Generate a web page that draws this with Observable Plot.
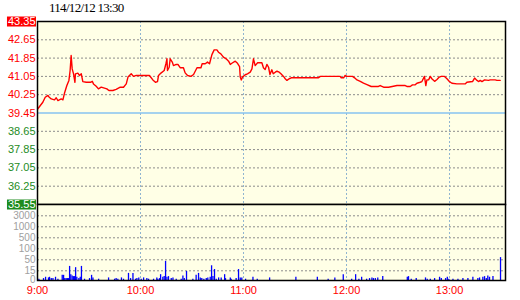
<!DOCTYPE html>
<html><head><meta charset="utf-8">
<script src="https://cdn.jsdelivr.net/npm/d3@7"></script>
<script src="https://cdn.jsdelivr.net/npm/@observablehq/plot@0.6"></script>
<style>
body{margin:0;background:#fff;}
#wrap{position:relative;width:520px;height:300px;overflow:hidden;font-family:"Liberation Sans",Arial,sans-serif;}
#title{position:absolute;left:49px;top:0px;font:13px "Liberation Serif",serif;letter-spacing:-0.7px;line-height:16px;color:#000;}
#price{position:absolute;left:0;top:0;}
#vol{position:absolute;left:0;top:204px;}
svg{overflow:visible;}
</style></head><body>
<div id="wrap"><div id="title"></div><div id="price"></div><div id="vol"></div></div>
<script>
const titleText = "114/12/12 13:30";
const priceLabels = ["35.55","36.25","37.05","37.85","38.65","39.45","40.25","41.05","41.85","42.65","43.35"];
const refLabel = "39.45";
const timeLabels = ["9:00","10:00","11:00","12:00","13:00"];
const volLabels = ["0","15","50","100","500","1000","3000"];

// minutes after 9:00
const priceMinutes = [0.2,3.1,4.5,6.1,6.4,8.0,9.9,10.9,11.9,13.8,14.8,15.7,17.1,18.3,19.0,19.6,20.2,21.0,21.8,22.1,23.5,24.5,25.5,26.4,28.4,30.9,31.9,32.6,34.2,35.5,37.1,39.0,40.4,41.6,43.9,45.8,48.2,50.1,51.7,52.7,54.6,55.9,57.5,65.2,67.2,68.7,69.9,70.5,71.9,73.8,74.8,75.4,75.7,76.7,77.3,78.5,79.2,80.8,81.8,83.1,85.0,86.0,87.4,89.4,90.9,92.9,95.2,95.9,97.7,99.0,100.2,101.6,102.9,104.5,105.4,106.8,108.3,109.9,111.3,112.3,113.2,115.2,116.5,117.7,118.1,118.7,119.4,121.0,122.3,123.9,124.9,125.8,126.8,128.2,130.7,131.6,132.6,133.6,134.6,135.4,136.5,137.3,138.5,139.5,140.8,141.8,143.3,144.3,145.3,146.6,147.8,163.7,164.7,176.3,176.9,178.3,179.2,180.2,183.5,184.7,186.1,188.0,189.9,191.9,194.4,198.6,199.6,201.6,204.5,209.4,214.2,215.2,217.1,218.4,220.0,221.0,222.9,223.9,225.4,226.2,226.8,227.8,228.8,229.7,231.3,232.7,234.0,235.2,237.1,238.5,239.8,241.4,244.3,249.1,250.1,253.4,254.6,256.0,256.9,257.9,258.9,260.4,262.7,263.7,266.6,267.6,269.5];
const prices = [39.63,39.91,40.12,40.20,40.15,40.05,40.01,40.10,39.98,40.05,40.01,40.29,40.62,40.84,41.26,41.90,41.33,41.12,40.76,41.12,41.15,41.05,41.12,40.79,40.76,40.76,40.80,40.69,40.59,40.48,40.55,40.51,40.48,40.41,40.41,40.46,40.55,40.55,40.69,40.98,41.12,41.01,41.05,41.05,40.86,40.76,40.79,41.05,41.15,41.26,41.55,41.76,41.26,41.40,41.76,41.62,41.47,41.52,41.52,41.38,41.38,41.16,41.05,41.01,41.09,41.38,41.38,41.55,41.55,41.62,41.55,41.94,42.14,42.14,42.04,41.97,41.83,41.76,41.66,41.52,41.57,41.66,41.57,41.43,40.98,40.86,40.98,41.08,41.12,41.19,41.33,41.76,41.47,41.59,41.59,41.38,41.30,41.52,41.40,41.09,41.29,41.12,41.19,41.23,41.19,41.12,41.01,40.91,40.84,40.91,40.95,40.95,41.01,41.01,40.95,40.95,41.05,41.01,41.01,40.95,40.86,40.80,40.72,40.66,40.58,40.58,40.62,40.55,40.55,40.62,40.62,40.58,40.58,40.65,40.65,40.72,40.76,40.79,41.01,40.62,40.86,40.86,41.01,40.91,40.80,40.88,40.98,41.01,41.01,40.91,40.80,40.72,40.69,40.69,40.76,40.79,40.94,40.84,40.79,40.84,40.79,40.86,40.84,40.86,40.86,40.84,40.84];

const volMinutes = [0.8,3.5,4.7,6.4,7.0,8.0,9.0,10.5,11.9,14.4,15.2,15.9,16.7,17.5,18.1,18.7,19.4,20.2,21.0,21.6,22.2,22.9,24.1,24.9,25.6,27.4,30.3,31.5,32.3,35.6,41.4,44.9,45.8,46.8,48.9,50.1,53.0,54.2,55.6,57.1,57.9,59.0,60.4,61.8,63.7,64.7,67.6,69.5,70.1,71.1,71.7,73.0,73.8,74.6,75.4,76.3,77.9,78.9,80.8,83.7,84.7,85.5,86.8,90.5,92.4,93.8,94.8,95.7,96.9,98.3,99.2,100.6,101.4,102.2,103.1,104.1,105.5,107.0,109.0,109.5,112.3,112.8,115.7,117.1,118.1,119.0,121.2,125.5,128.0,135.2,150.5,163.0,169.3,173.2,178.1,183.0,185.3,187.2,188.8,191.7,193.4,194.8,195.7,196.8,198.2,201.1,215.4,216.1,217.7,220.6,226.0,227.0,228.8,231.3,234.2,235.2,237.7,238.7,239.6,242.0,244.9,247.8,250.7,253.6,256.5,257.5,259.4,260.4,261.4,262.3,263.3,265.3,269.7];
const volumes = [2,3,5,4,5,3,3,5,2,8,8,3,3,3,3,29,9,7,6,6,25,5,3,5,29,2,3,8,4,2,4,2,3,2,4,2,11,3,11,2,3,4,2,4,3,2,2,4,2,3,9,5,6,45,5,6,3,4,2,2,7,3,14,2,8,11,4,3,2,3,4,5,31,6,19,2,4,4,9,3,4,2,3,19,4,4,2,5,2,4,5,5,2,4,9,2,9,2,5,2,3,4,3,3,4,6,5,6,2,3,4,2,2,3,5,3,3,5,2,2,2,3,3,5,3,4,5,6,3,7,5,6,60];

// ---- derived ----
document.getElementById("title").textContent = titleText;
const n = priceLabels.length;
const lo = +priceLabels[0], hi = +priceLabels[n - 1];
const priceTickPos = priceLabels.map((_, i) => lo + i * (hi - lo) / (n - 1));
const refIdx = priceLabels.indexOf(refLabel);
const tickMin = timeLabels.map(s => { const [h, m] = s.split(":").map(Number); return (h - 9) * 60 + m; });
const xDomain = [0, 272.6];
const RED = "#FF0000", GREEN = "#1E8C1E", BG = "#FFFFE6";
const priceData = priceMinutes.map((m, i) => ({m, p: prices[i]}));
const volData = volMinutes.map((m, i) => ({m, v: volumes[i]}));
const idx = d3.range(n);
const inner = idx.filter(i => i > 0 && i < n - 1);
const ends = [0, n - 1];

const pricePlot = Plot.plot({
  width: 520, height: 205,
  marginLeft: 37, marginRight: 15, marginTop: 21, marginBottom: 1,
  style: {background: "transparent", overflow: "visible"},
  x: {domain: xDomain, axis: null},
  y: {domain: [lo, hi], axis: null},
  marks: [
    Plot.frame({fill: BG, stroke: "none"}),
    Plot.gridY(inner.filter(i => i !== refIdx).map(i => priceTickPos[i]), {stroke: "#8c8c8c", strokeOpacity: 1, strokeDasharray: "2,2"}),
    Plot.gridX(tickMin.slice(1), {stroke: "#8FB4D0", strokeOpacity: 1, strokeDasharray: "2,2"}),
    Plot.ruleY([priceTickPos[refIdx]], {stroke: "#87C3F0", strokeWidth: 1.5}),
    Plot.line(priceData, {x: "m", y: "p", stroke: RED, strokeWidth: 1.4}),
    Plot.frame({stroke: "black", strokeWidth: 1.5}),
    Plot.text(inner, {y: i => priceTickPos[i], text: i => priceLabels[i], frameAnchor: "left", textAnchor: "end", dx: -2, fill: i => i >= refIdx ? RED : GREEN, fontSize: 11, fontFamily: "Liberation Sans"}),
    Plot.text(ends, {y: i => priceTickPos[i], text: i => priceLabels[i], frameAnchor: "left", textAnchor: "end", dx: -2, fill: "white", fontSize: 11, fontFamily: "Liberation Sans"})
  ]
});
document.getElementById("price").appendChild(pricePlot);

// coloured boxes behind the two end labels
const boxColor = {[priceLabels[n - 1]]: RED, [priceLabels[0]]: GREEN};
pricePlot.querySelectorAll("text").forEach(t => {
  const col = boxColor[t.textContent];
  if (!col) return;
  const b = t.getBBox();
  const r = document.createElementNS("http://www.w3.org/2000/svg", "rect");
  r.setAttribute("x", b.x - 1);
  r.setAttribute("y", b.y + 1.5);
  r.setAttribute("width", b.width + 1.5);
  r.setAttribute("height", Math.max(10, b.height - 2.5));
  r.setAttribute("fill", col);
  if (t.getAttribute("transform")) r.setAttribute("transform", t.getAttribute("transform"));
  t.parentNode.insertBefore(r, t);
});

const volVals = volLabels.map(Number);
const volRange = volVals.map((_, i) => i === 0 ? 76 : 11.3 + 11 * (volVals.length - 1 - i));
const volPlot = Plot.plot({
  width: 520, height: 96,
  marginLeft: 37, marginRight: 15, marginTop: 0, marginBottom: 20,
  style: {background: "transparent", overflow: "visible"},
  x: {domain: xDomain, axis: null},
  y: {type: "linear", domain: volVals, range: volRange, axis: null},
  marks: [
    Plot.frame({fill: BG, stroke: "none"}),
    Plot.gridY(volVals.slice(1), {stroke: "#8c8c8c", strokeOpacity: 1, strokeDasharray: "2,2"}),
    Plot.gridX(tickMin.slice(1), {stroke: "#8FB4D0", strokeOpacity: 1, strokeDasharray: "2,2"}),
    Plot.ruleX(volData, {x: "m", y1: 0, y2: "v", stroke: "#0000FF", strokeWidth: 1.3}),
    Plot.frame({stroke: "black", strokeWidth: 1.5}),
    Plot.text(volLabels, {y: d => +d, text: d => d, frameAnchor: "left", textAnchor: "end", dx: -2, dy: -0.5, fill: "#A0A0A0", fontSize: 10, fontFamily: "Liberation Sans"}),
    Plot.text(timeLabels, {x: (d, i) => tickMin[i], text: d => d, frameAnchor: "bottom", dy: 13.5, fill: RED, fontSize: 11, fontFamily: "Liberation Sans"})
  ]
});
document.getElementById("vol").appendChild(volPlot);
</script>
</body></html>
